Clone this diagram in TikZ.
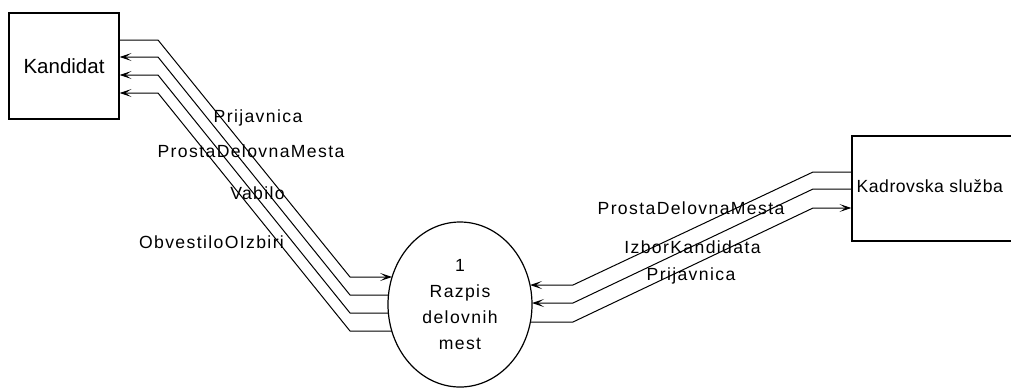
\documentclass[tikz,border=0pt]{standalone}
\usepackage{fontspec}
\setmainfont{Liberation Sans}
\newfontfamily\labfont[LetterSpace=7.8]{Liberation Sans}
\newfontfamily\narrowfont[LetterSpace=3]{Liberation Sans}
\newfontfamily\kfont{Liberation Sans}
\usetikzlibrary{arrows.meta,calc,shapes.geometric}
\begin{document}
\begin{tikzpicture}[x=1pt,y=-1pt,
  flow/.style={line width=1pt},
  arr/.style={-{Stealth[length=12pt,width=8pt,inset=6pt]}},
  entity/.style={draw,line width=1.2pt,rectangle,inner sep=0pt},
  lab/.style={font=\labfont\fontsize{17.6}{21}\selectfont,inner sep=0pt}]
\clip (0,0) rectangle (1011,389);
\fill[white] (0,0) rectangle (1011,389);
% nodes
\node[entity,minimum width=110pt,minimum height=106pt,font=\kfont\fontsize{20.5}{24}\selectfont] (kand) at (64,66) {Kandidat};
\node[entity,minimum width=168pt,minimum height=105pt] (kadr) at (936,188.5) {};
\node[inner sep=0pt,anchor=west,font=\narrowfont\fontsize{17.6}{21}\selectfont] (kadrtxt) at ([xshift=5pt,yshift=2.5pt]kadr.west) {Kadrovska služba};
\node[draw,line width=1.2pt,ellipse,minimum width=144pt,minimum height=165pt,inner sep=0pt,align=center,font=\labfont\fontsize{17.6}{25.7}\selectfont] (ell) at (460,304.5) {1\\Razpis\\delovnih\\mest};
% endpoint coordinates
\coordinate (k1) at ($(kand.east)+(0,-26)$);
\coordinate (k2) at ($(kand.east)+(0,-9)$);
\coordinate (k3) at ($(kand.east)+(0,9)$);
\coordinate (k4) at ($(kand.east)+(0,27)$);
\coordinate (e1) at ($(ell.center)+(-67.9,-27.5)$);
\coordinate (e2) at ($(ell.center)+(-71.5,-9.5)$);
\coordinate (e3) at ($(ell.center)+(-71.6,8.5)$);
\coordinate (e4) at ($(ell.center)+(-68.2,26.5)$);
\coordinate (f1) at ($(ell.center)+(70.0,-19.5)$);
\coordinate (f2) at ($(ell.center)+(72.0,-1.5)$);
\coordinate (f3) at ($(ell.center)+(70.4,17.5)$);
\coordinate (d1) at ($(kadr.west)+(0,-16.5)$);
\coordinate (d2) at ($(kadr.west)+(0,0.5)$);
\coordinate (d3) at ($(kadr.west)+(0,19.5)$);
% left flows
\draw[flow,arr] (k1) -- (158,40) -- (350,277) -- (e1);
\draw[flow,arr] (e2) -- (350,295) -- (158,57) -- (k2);
\draw[flow,arr] (e3) -- (350,313) -- (158,75) -- (k3);
\draw[flow,arr] (e4) -- (350,331) -- (158,93) -- (k4);
% right flows
\draw[flow,arr] (d1) -- (813,172) -- (573,285) -- (f1);
\draw[flow,arr] (d2) -- (813,189) -- (573,303) -- (f2);
\draw[flow,arr] (f3) -- (573,322) -- (813,208) -- (d3);
% labels
\node[lab] (l1) at (258,118) {Prijavnica};
\node[lab] (l2) at (251,151) {ProstaDelovnaMesta};
\node[lab] (l3) at (257.5,193) {Vabilo};
\node[lab] (l4) at (211.5,242) {ObvestiloOIzbiri};
\node[lab] (l5) at (691,208) {ProstaDelovnaMesta};
\node[lab] (l6) at (692.5,247) {IzborKandidata};
\node[lab] (l7) at (691,276) {Prijavnica};
\end{tikzpicture}
\end{document}
